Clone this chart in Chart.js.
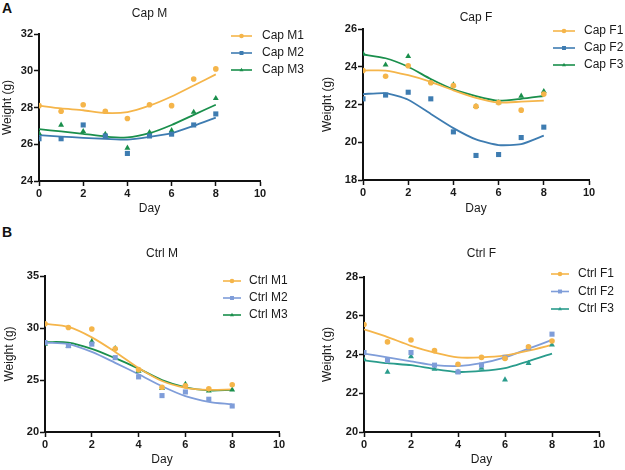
<!DOCTYPE html>
<html>
<head>
<meta charset="utf-8">
<script src="https://cdn.jsdelivr.net/npm/chart.js@4/dist/chart.umd.min.js"></script>
<style>
  body { margin: 0; background: #fff; width: 625px; height: 470px; position: relative; overflow: hidden; font-family: "Liberation Sans", Arial, sans-serif; }
  canvas { position: absolute; }
  .tag { position: absolute; font: bold 14px/14px "Liberation Sans", Arial, sans-serif; color: #111; }
</style>
</head>
<body>
<div class="tag" style="left:2px; top:1px;">A</div>
<div class="tag" style="left:2px; top:225px;">B</div>
<canvas id="capM" width="312" height="230" style="left:0; top:0;"></canvas>
<canvas id="capF" width="313" height="230" style="left:312px; top:0;"></canvas>
<canvas id="ctrlM" width="312" height="240" style="left:0; top:230px;"></canvas>
<canvas id="ctrlF" width="313" height="240" style="left:312px; top:230px;"></canvas>
<script>
const days = [0, 1, 2, 3, 4, 5, 6, 7, 8];

// Cap M
const capM1 = [28.1, 27.8, 28.15, 27.8, 27.4, 28.15, 28.1, 29.55, 30.1];
const capM1Fit = [28.1, 27.95, 27.85, 27.7, 27.75, 28.1, 28.6, 29.2, 29.8];
const capM2 = [26.3, 26.3, 27.05, 26.45, 25.5, 26.45, 26.55, 27.05, 27.65];
const capM2Fit = [26.5, 26.42, 26.35, 26.3, 26.25, 26.4, 26.6, 27.0, 27.45];
const capM3 = [26.6, 27.05, 26.7, 26.55, 25.8, 26.65, 26.75, 27.75, 28.5];
const capM3Fit = [26.82, 26.7, 26.57, 26.42, 26.37, 26.6, 27.05, 27.6, 28.15];

// Cap F
const capF1 = [23.8, 23.5, 24.05, 23.15, 23.0, 21.9, 22.1, 21.7, 22.55];
const capF1Fit = [23.8, 23.8, 23.55, 23.2, 22.75, 22.35, 22.1, 22.15, 22.2];
const capF2 = [22.3, 22.5, 22.65, 22.3, 20.55, 19.3, 19.35, 20.25, 20.8];
const capF2Fit = [22.55, 22.6, 22.25, 21.5, 20.75, 20.15, 19.85, 19.9, 20.35];
const capF3 = [24.7, 24.1, 24.55, 23.2, 23.05, 21.9, 22.1, 22.45, 22.7];
const capF3Fit = [24.65, 24.45, 24.0, 23.35, 22.8, 22.45, 22.2, 22.3, 22.45];

// Ctrl M
const ctrlM1 = [30.4, 30.05, 29.9, 28.0, 26.0, 24.3, 24.45, 24.15, 24.55];
const ctrlM1Fit = [30.4, 30.1, 29.1, 27.7, 26.15, 24.9, 24.25, 24.05, 24.1];
const ctrlM2 = [28.6, 28.3, 28.45, 27.15, 25.3, 23.5, 23.85, 23.15, 22.5];
const ctrlM2Fit = [28.6, 28.45, 27.7, 26.65, 25.55, 24.4, 23.45, 22.9, 22.65];
const ctrlM3 = [28.45, 28.25, 28.7, 28.05, 25.85, 24.2, 24.6, 23.95, 24.05];
const ctrlM3Fit = [28.65, 28.6, 28.0, 27.1, 26.1, 25.0, 24.3, 24.0, 24.05];

// Ctrl F
const ctrlF1 = [25.55, 24.65, 24.75, 24.2, 23.5, 23.85, 23.8, 24.4, 24.7];
const ctrlF1Fit = [25.3, 24.9, 24.45, 24.1, 23.85, 23.85, 23.95, 24.2, 24.5];
const ctrlF2 = [24.1, 23.7, 24.1, 23.45, 23.1, 23.45, 23.85, 24.35, 25.05];
const ctrlF2Fit = [24.05, 23.85, 23.65, 23.45, 23.4, 23.55, 23.85, 24.3, 24.75];
const ctrlF3 = [23.75, 23.1, 23.9, 23.25, 23.1, 23.3, 22.7, 23.55, 24.5];
const ctrlF3Fit = [23.7, 23.55, 23.45, 23.25, 23.1, 23.15, 23.3, 23.65, 24.05];

const ORANGE = '#F5B54A';
const CAP_BLUE = '#3E7CB1';
const GREEN = '#1A8F4C';
const CTRL_BLUE = '#7F9DD9';
const TEAL = '#2A9C8C';
const FONT = '"Liberation Sans", Arial, sans-serif';
const INK = '#1a1a1a';

function marker(ctx, style, x, y, r) {
    ctx.beginPath();
    if (style === 'rect') {
        const s = r * Math.SQRT1_2;
        ctx.rect(x - s, y - s, 2 * s, 2 * s);
    } else if (style === 'triangle') {
        ctx.moveTo(x, y - r);
        ctx.lineTo(x + r * 0.866, y + r * 0.5);
        ctx.lineTo(x - r * 0.866, y + r * 0.5);
        ctx.closePath();
    } else {
        ctx.arc(x, y, r, 0, Math.PI * 2);
    }
    ctx.fill();
}

// legend sits inside the plot, so draw it by hand
const panelLegend = {
    id: 'panelLegend',
    afterDraw(chart, args, opts) {
        const ctx = chart.ctx;
        const sets = chart.data.datasets.filter(d => !d.showLine);
        ctx.save();
        ctx.font = '12px ' + FONT;
        ctx.textBaseline = 'middle';
        sets.forEach((d, i) => {
            const y = opts.y + i * opts.gap;
            ctx.strokeStyle = d.borderColor;
            ctx.lineWidth = 1.6;
            ctx.beginPath();
            ctx.moveTo(opts.x, y);
            ctx.lineTo(opts.x + opts.len, y);
            ctx.stroke();
            ctx.fillStyle = d.backgroundColor;
            marker(ctx, d.pointStyle, opts.x + opts.len / 2, y, d.pointStyle === 'rect' ? 2.8 : 2.3);
            ctx.fillStyle = INK;
            ctx.fillText(d.label, opts.textX, y);
        });
        ctx.restore();
    }
};

function xy(vals) {
    return days.map((d, i) => ({ x: d, y: vals[i] }));
}

function makePanel(id, p) {
    const ptsSets = p.series.map(s => ({
        label: s.label,
        data: xy(s.pts),
        showLine: false,
        pointStyle: s.style,
        pointRadius: s.style === 'rect' ? 3.6 : (s.style === 'triangle' ? 3.4 : 2.8),
        pointBorderWidth: 0,
        backgroundColor: s.color,
        borderColor: s.color
    }));
    const fitSets = p.series.map(s => ({
        label: s.label + ' fit',
        data: xy(s.fit),
        showLine: true,
        pointRadius: 0,
        borderColor: s.color,
        backgroundColor: s.color,
        borderWidth: 1.8,
        tension: p.tension
    }));
    new Chart(document.getElementById(id), {
        type: 'scatter',
        data: { datasets: ptsSets.concat(fitSets) },
        options: {
            responsive: false,
            animation: false,
            events: [],
            layout: { padding: { left: 0, right: p.padRight, top: 0, bottom: 0 } },
            plugins: {
                legend: { display: false },
                tooltip: { enabled: false },
                title: {
                    display: true,
                    text: p.title,
                    fullSize: false,
                    color: INK,
                    font: { family: FONT, size: 12, weight: 'normal' },
                    padding: { top: p.titleTop, bottom: p.titleBottom }
                },
                panelLegend: p.legend
            },
            scales: {
                x: {
                    type: 'linear',
                    min: 0, max: 10,
                    afterFit: s => { s.height = p.xAxisH; },
                    border: { display: true, color: '#111', width: 2 },
                    grid: { display: true, drawOnChartArea: false, drawTicks: true, tickLength: 5, tickColor: '#111', tickWidth: 1.5 },
                    ticks: { stepSize: 2, padding: 1, maxRotation: 0, color: INK, font: { family: FONT, size: 11, weight: 'bold' } },
                    title: { display: true, text: 'Day', color: INK, font: { family: FONT, size: 12 }, padding: { top: 0, bottom: p.xTitlePad } }
                },
                y: {
                    min: p.yMin, max: p.yMax,
                    afterFit: s => { s.width = p.yAxisW; },
                    border: { display: true, color: '#111', width: 2 },
                    grid: { display: true, drawOnChartArea: false, drawTicks: true, tickLength: 5, tickColor: '#111', tickWidth: 1.5 },
                    ticks: { stepSize: p.yStep, padding: 1, color: INK, font: { family: FONT, size: 11, weight: 'bold' } },
                    title: { display: true, text: 'Weight (g)', color: INK, font: { family: FONT, size: 12 }, padding: { top: p.yTitlePad, bottom: 0 } }
                }
            }
        },
        plugins: [panelLegend]
    });
}

makePanel('capM', {
    title: 'Cap M', yMin: 24, yMax: 32, yStep: 2, tension: 0.2,
    series: [
        { label: 'Cap M1', pts: capM1, fit: capM1Fit, color: ORANGE, style: 'circle' },
        { label: 'Cap M2', pts: capM2, fit: capM2Fit, color: CAP_BLUE, style: 'rect' },
        { label: 'Cap M3', pts: capM3, fit: capM3Fit, color: GREEN, style: 'triangle' }
    ],
    padRight: 52, yAxisW: 39, xAxisH: 49, titleTop: 6, titleBottom: 13.6, xTitlePad: 13.8, yTitlePad: 0.8,
    legend: { x: 231, len: 21, textX: 262, y: 36, gap: 17 }
});

makePanel('capF', {
    title: 'Cap F', yMin: 18, yMax: 26, yStep: 2, tension: 0.2,
    series: [
        { label: 'Cap F1', pts: capF1, fit: capF1Fit, color: ORANGE, style: 'circle' },
        { label: 'Cap F2', pts: capF2, fit: capF2Fit, color: CAP_BLUE, style: 'rect' },
        { label: 'Cap F3', pts: capF3, fit: capF3Fit, color: GREEN, style: 'triangle' }
    ],
    padRight: 36, yAxisW: 51, xAxisH: 50, titleTop: 10, titleBottom: 4.6, xTitlePad: 13.8, yTitlePad: 8.8,
    legend: { x: 241, len: 22, textX: 272, y: 31, gap: 17 }
});

makePanel('ctrlM', {
    title: 'Ctrl M', yMin: 20, yMax: 35, yStep: 5, tension: 0.3,
    series: [
        { label: 'Ctrl M1', pts: ctrlM1, fit: ctrlM1Fit, color: ORANGE, style: 'circle' },
        { label: 'Ctrl M2', pts: ctrlM2, fit: ctrlM2Fit, color: CTRL_BLUE, style: 'rect' },
        { label: 'Ctrl M3', pts: ctrlM3, fit: ctrlM3Fit, color: GREEN, style: 'triangle' }
    ],
    padRight: 33, yAxisW: 45, xAxisH: 38, titleTop: 16, titleBottom: 15.6, xTitlePad: 2.8, yTitlePad: 2.8,
    legend: { x: 223, len: 18, textX: 249, y: 51, gap: 17 }
});

makePanel('ctrlF', {
    title: 'Ctrl F', yMin: 20, yMax: 28, yStep: 2, tension: 0.2,
    series: [
        { label: 'Ctrl F1', pts: ctrlF1, fit: ctrlF1Fit, color: ORANGE, style: 'circle' },
        { label: 'Ctrl F2', pts: ctrlF2, fit: ctrlF2Fit, color: CTRL_BLUE, style: 'rect' },
        { label: 'Ctrl F3', pts: ctrlF3, fit: ctrlF3Fit, color: TEAL, style: 'triangle' }
    ],
    padRight: 26, yAxisW: 52, xAxisH: 38, titleTop: 16, titleBottom: 16.6, xTitlePad: 2.8, yTitlePad: 8.8,
    legend: { x: 239, len: 18, textX: 266, y: 44, gap: 17.5 }
});
</script>
</body>
</html>
